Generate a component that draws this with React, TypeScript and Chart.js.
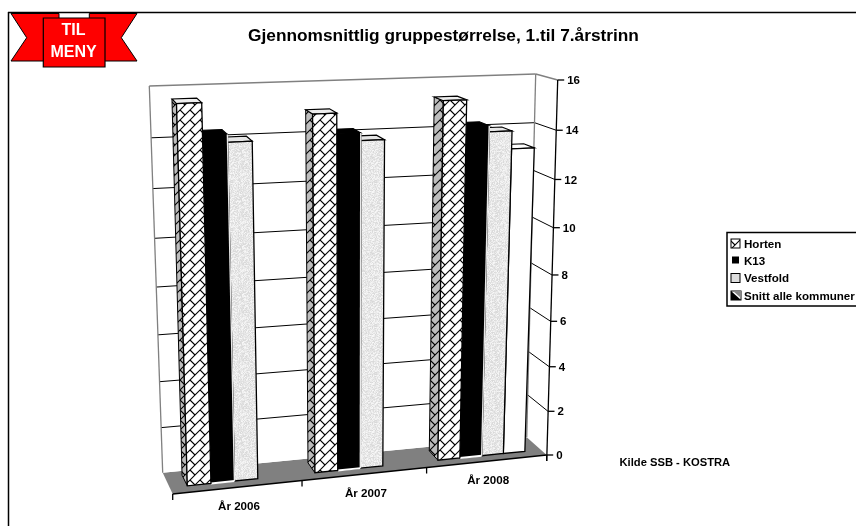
import React, { useEffect, useRef } from "react";
import { Chart, registerables } from "chart.js";

Chart.register(...registerables);

const categories = ["År 2006", "År 2007", "År 2008"];
const seriesNames = ["Horten", "K13", "Vestfold", "Snitt alle kommuner"];
const horten = [15.55, 14.95, 15.27];
const k13 = [14.3, 14.13, 14.2];
const vestfold = [14.0, 13.83, 13.95];
const snitt = [null, null, 13.22];
const titleText = "Gjennomsnittlig gruppestørrelse, 1.til 7.årstrinn";
const sourceText = "Kilde SSB - KOSTRA";
const FONT = '"Liberation Sans", Arial, sans-serif';

type Pt = [number, number];
const FBL: Pt = [172.7, 494], FBR: Pt = [546.7, 455], BBL: Pt = [162.7, 472.7], BBR: Pt = [526.7, 437.3];
const FTL: Pt = [157.7, 95], FTR: Pt = [557.7, 80], BTL: Pt = [149.3, 86], BTR: Pt = [535.7, 74];
const lerp = (a: Pt, b: Pt, t: number): Pt => [a[0] + (b[0] - a[0]) * t, a[1] + (b[1] - a[1]) * t];
const warp = (t: number, k: number) => t / (t + k * (1 - t));
const project = (u: number, v: number, d: number): Pt => {
  const uu = warp(u, 0.946), vv = warp(v, 1.083);
  const f = lerp(lerp(FBL, FBR, uu), lerp(FTL, FTR, uu), vv);
  const b = lerp(lerp(BBL, BBR, uu), lerp(BTL, BTR, uu), vv);
  return lerp(f, b, d);
};
const barProject = (u: number, v: number, d: number): Pt => {
  const q = project(u, v, d);
  return [q[0] + 2.2 * warp(v, 1.083), q[1]];
};

function poly(ctx: CanvasRenderingContext2D, pts: Pt[], fill?: any, stroke?: string, lw = 1) {
  ctx.beginPath();
  pts.forEach((p, i) => (i ? ctx.lineTo(p[0], p[1]) : ctx.moveTo(p[0], p[1])));
  ctx.closePath();
  if (fill) { ctx.fillStyle = fill; ctx.fill(); }
  if (stroke) { ctx.strokeStyle = stroke; ctx.lineWidth = lw; ctx.stroke(); }
}
function line(ctx: CanvasRenderingContext2D, a: Pt, b: Pt, color: string, lw: number) {
  ctx.beginPath(); ctx.moveTo(a[0], a[1]); ctx.lineTo(b[0], b[1]);
  ctx.strokeStyle = color; ctx.lineWidth = lw; ctx.stroke();
}
function text(ctx: CanvasRenderingContext2D, s: string, x: number, y: number, size: number, color = "#000", align: CanvasTextAlign = "left") {
  ctx.font = `bold ${size}px ${FONT}`; ctx.fillStyle = color; ctx.textAlign = align; ctx.textBaseline = "middle";
  ctx.fillText(s, x, y);
}

function brickPattern(ctx: CanvasRenderingContext2D, bg: string) {
  const T = 20, s = 10;
  const c = document.createElement("canvas"); c.width = T; c.height = T;
  const g = c.getContext("2d")!;
  g.fillStyle = bg; g.fillRect(0, 0, T, T);
  g.strokeStyle = "#000"; g.lineWidth = 1.1;
  for (let k = -2; k <= 6; k++) {
    g.beginPath(); g.moveTo(-5, k * s + 5); g.lineTo(k * s + 5, -5); g.stroke();
    for (let j = -4; j <= 6; j++) {
      const x0 = j * s;
      g.beginPath(); g.moveTo(x0, k * s - x0); g.lineTo(x0 + 5, k * s - x0 + 5); g.stroke();
    }
  }
  return ctx.createPattern(c, "repeat")!;
}
function granitePattern(ctx: CanvasRenderingContext2D) {
  const T = 48;
  const c = document.createElement("canvas"); c.width = T; c.height = T;
  const g = c.getContext("2d")!;
  for (let y = 0; y < T; y++) for (let x = 0; x < T; x++) {
    const h = (Math.sin(x * 12.9898 + y * 78.233) * 43758.5453) % 1;
    const w = Math.round(216 + Math.abs(h) * 32);
    g.fillStyle = `rgb(${w},${w},${w})`; g.fillRect(x, y, 1, 1);
  }
  return ctx.createPattern(c, "repeat")!;
}

const scene = {
  id: "scene",
  beforeDraw(chart: any) {
    const ctx: CanvasRenderingContext2D = chart.ctx;
    ctx.save();
    ctx.fillStyle = "#fff"; ctx.fillRect(0, 0, chart.width, chart.height);
    // outer frame
    line(ctx, [8.5, 12], [8.5, 526], "#000", 1.5);
    line(ctx, [8, 12.5], [856, 12.5], "#000", 1.5);
    const yS = chart.scales.y;
    const a = chart.chartArea;
    // floor and walls
    poly(ctx, [project(0, 0, 0), project(1, 0, 0), project(1, 0, 1), project(0, 0, 1)], "#808080");
    poly(ctx, [project(0, 0, 1), project(0, 1, 1), project(1, 1, 1), project(1, 0, 1)], "#fff");
    yS.ticks.forEach((t: any) => {
      const v = (a.bottom - yS.getPixelForValue(t.value)) / a.height;
      if (t.value > 0 && t.value < 16) {
        line(ctx, project(0, v, 1), project(1, v, 1), "#000", 1);
        line(ctx, project(1, v, 1), project(1, v, 0), "#000", 1);
      }
    });
    line(ctx, project(0, 0, 1), project(0, 1, 1), "#808080", 1.3);
    line(ctx, project(0, 1, 1), project(1, 1, 1), "#808080", 1.3);
    line(ctx, project(1, 0, 1), project(1, 1, 1), "#808080", 1.3);
    line(ctx, project(1, 1, 1), project(1, 1, 0), "#808080", 1.3);
    ctx.restore();
  },
  afterDraw(chart: any) {
    const ctx: CanvasRenderingContext2D = chart.ctx;
    const a = chart.chartArea;
    const yS = chart.scales.y, xS = chart.scales.x;
    ctx.save();
    const brick = brickPattern(ctx, "#fff"), brickSide = brickPattern(ctx, "#bdbdbd"), granite = granitePattern(ctx);
    const style = [
      { front: brick, side: brickSide, top: "#eeeeee" },
      { front: "#000", side: "#000", top: "#000" },
      { front: granite, side: "#d0d0d0", top: "#e6e6e6" },
      { front: "#fff", side: "#888", top: "#fff" },
    ];
    const D0 = 0.3, D1 = 0.8;
    for (let c = categories.length - 1; c >= 0; c--) {
      for (let s = chart.data.datasets.length - 1; s >= 0; s--) {
        const el = chart.getDatasetMeta(s).data[c];
        if (chart.data.datasets[s].data[c] == null) continue;
        const p = el.getProps(["x", "y", "base", "width"], true);
        const u0 = (p.x - p.width / 2 - a.left) / a.width, u1 = (p.x + p.width / 2 - a.left) / a.width;
        const v = (p.base - p.y) / a.height;
        const st = style[s];
        poly(ctx, [barProject(u0, 0, D1), barProject(u0, v, D1), barProject(u0, v, D0), barProject(u0, 0, D0)], st.side, "#000", 1);
        poly(ctx, [barProject(u0, v, D0), barProject(u0, v, D1), barProject(u1, v, D1), barProject(u1, v, D0)], st.top, "#000", 1.2);
        poly(ctx, [barProject(u0, 0, D0), barProject(u0, v, D0), barProject(u1, v, D0), barProject(u1, 0, D0)], st.front, "#000", 1.3);
        if (s === 1) {
          line(ctx, barProject(u1, 0, D0), barProject(u1, v, D0), "#e8e8e8", 1.4);
          line(ctx, barProject(u0, 0, D0), barProject(u1, 0, D0), "#fff", 2);
        }
      }
    }
    // value axis
    line(ctx, project(1, 1, 0), [FBR[0], FBR[1] + 6], "#000", 1.3);
    yS.ticks.forEach((t: any) => {
      const v = (a.bottom - yS.getPixelForValue(t.value)) / a.height;
      const q = project(1, v, 0);
      line(ctx, q, [q[0] + 6.5, q[1]], "#000", 1.3);
      text(ctx, String(t.value), q[0] + 9.5, q[1] + 1, 11.5);
    });
    // category axis
    line(ctx, project(0, 0, 0), project(1, 0, 0), "#000", 1.3);
    for (let i = 0; i <= categories.length; i++) {
      const q = project(i / categories.length, 0, 0);
      line(ctx, q, [q[0], q[1] + 6], "#000", 1.3);
    }
    categories.forEach((_, i) => {
      const q = project((i + 0.5) / categories.length, 0, 0);
      text(ctx, xS.getLabelForValue(i), q[0] + 1, q[1] + 20, 11.6, "#000", "center");
    });
    // title and source
    text(ctx, titleText, 443.5, 36.5, 17.3, "#000", "center");
    text(ctx, sourceText, 619.5, 463, 11.2);
    // legend
    ctx.fillStyle = "#fff"; ctx.fillRect(727, 232, 140, 74);
    ctx.strokeStyle = "#000"; ctx.lineWidth = 1.5; ctx.strokeRect(727, 232.5, 140, 73.5);
    const ly = [244, 261.5, 278.5, 296];
    seriesNames.forEach((n, i) => {
      const y = ly[i];
      if (i === 0) { ctx.fillStyle = brick; ctx.fillRect(731, y - 5, 9, 9); ctx.strokeStyle = "#000"; ctx.lineWidth = 1; ctx.strokeRect(731, y - 5, 9, 9); }
      if (i === 1) { ctx.fillStyle = "#000"; ctx.fillRect(732, y - 5, 7, 7); }
      if (i === 2) { ctx.fillStyle = "#ddd"; ctx.fillRect(731, y - 5, 9, 9); ctx.strokeStyle = "#000"; ctx.lineWidth = 1; ctx.strokeRect(731, y - 5, 9, 9); }
      if (i === 3) {
        ctx.fillStyle = "#fff"; ctx.fillRect(731, y - 5, 10, 9); ctx.strokeStyle = "#000"; ctx.lineWidth = 1; ctx.strokeRect(731, y - 5, 10, 9);
        poly(ctx, [[731, y - 5], [741, y + 4], [731, y + 4]], "#000");
        poly(ctx, [[733, y - 5], [741, y - 5], [741, y + 2]], "#888");
      }
      text(ctx, n, 744, y + 0.5, 11.6);
    });
    // ribbon
    const red = "#fe0000";
    poly(ctx, [[11, 61], [26.7, 37.7], [11, 13.5], [59, 13.5], [59, 19], [44, 19], [44, 61]], red, "#000", 1);
    poly(ctx, [[137, 61], [121.3, 37.7], [137, 13.5], [89.3, 13.5], [89.3, 19], [104, 19], [104, 61]], red, "#000", 1);
    poly(ctx, [[43.3, 18], [105, 18], [105, 67], [43.3, 67]], red, "#000", 1.2);
    text(ctx, "TIL", 73.5, 30.5, 16, "#fff", "center");
    text(ctx, "MENY", 73.5, 53, 16, "#fff", "center");
    ctx.restore();
  },
};

export default function App() {
  const ref = useRef<HTMLCanvasElement>(null);
  useEffect(() => {
    document.body.style.margin = "0";
    const dataSets = [horten, k13, vestfold, snitt];
    const chart = new Chart(ref.current!, {
      type: "bar",
      data: {
        labels: categories,
        datasets: seriesNames.map((label, i) => ({
          label,
          data: dataSets[i],
          backgroundColor: "rgba(0,0,0,0)",
          borderWidth: 0,
          barPercentage: 1,
          categoryPercentage: 0.73,
        })),
      },
      options: {
        responsive: false,
        animation: false,
        layout: { padding: { left: 172, right: 309, top: 80, bottom: 71 } },
        plugins: { legend: { display: false }, title: { display: false }, tooltip: { enabled: false } },
        scales: {
          x: { display: false },
          y: { display: false, min: 0, max: 16, ticks: { stepSize: 2 } },
        },
      },
      plugins: [scene],
    } as any);
    return () => chart.destroy();
  }, []);
  return <canvas ref={ref} width={856} height={526} style={{ display: "block" }} />;
}
